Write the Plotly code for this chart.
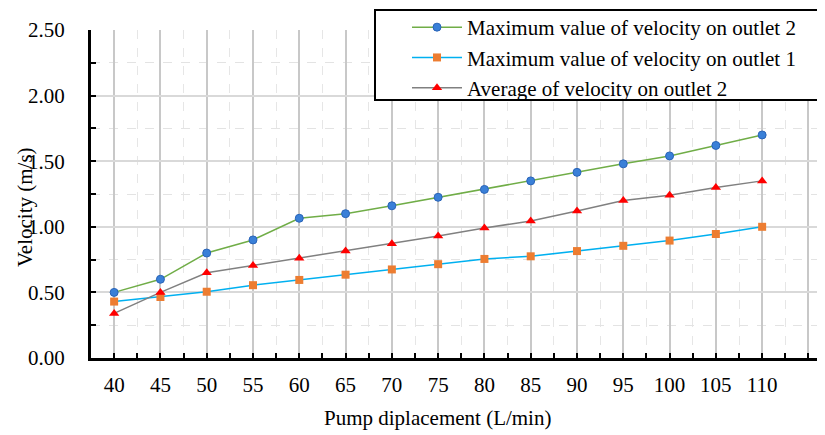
import plotly.graph_objects as go

pump = [40, 45, 50, 55, 60, 65, 70, 75, 80, 85, 90, 95, 100, 105, 110]
max_outlet2 = [0.50, 0.60, 0.80, 0.90, 1.065, 1.10, 1.16, 1.225, 1.285, 1.35, 1.415, 1.48, 1.54, 1.62, 1.70]
max_outlet1 = [0.43, 0.465, 0.505, 0.555, 0.595, 0.635, 0.675, 0.715, 0.755, 0.775, 0.815, 0.855, 0.895, 0.945, 1.00]
avg_outlet2 = [0.34, 0.50, 0.65, 0.705, 0.76, 0.815, 0.87, 0.93, 0.99, 1.045, 1.12, 1.20, 1.24, 1.30, 1.35]

x_tickvals = [40, 45, 50, 55, 60, 65, 70, 75, 80, 85, 90, 95, 100, 105, 110, 115]
x_ticktext = ["40", "45", "50", "55", "60", "65", "70", "75", "80", "85", "90", "95", "100", "105", "110", ""]

FONT = "Liberation Serif, Times New Roman, serif"

fig = go.Figure()
fig.add_trace(go.Scatter(
    x=pump, y=max_outlet2, mode="lines+markers",
    name="Maximum value of velocity on outlet 2",
    line=dict(color="#70ad47", width=1.5),
    marker=dict(symbol="circle", size=8, color="#3a80d8", line=dict(color="#2a64b8", width=1)),
))
fig.add_trace(go.Scatter(
    x=pump, y=max_outlet1, mode="lines+markers",
    name="Maximum value of velocity on outlet 1",
    line=dict(color="#00b0f0", width=1.5),
    marker=dict(symbol="square", size=8, color="#ed7d31"),
))
fig.add_trace(go.Scatter(
    x=pump, y=avg_outlet2, mode="lines+markers",
    name="Average of velocity on outlet 2",
    line=dict(color="#808080", width=1.5),
    marker=dict(symbol="triangle-up", size=9, color="#ff0000"),
))

OFF = 8  # page body margin
W, H = 825 - OFF, 435 - OFF
L, R, T = 91 - OFF, 0, 30 - OFF
pw = W - L - R
ph = 328
B = H - T - ph
px_per_unit = (762 - 114) / 70.0
x0 = 37.5
x1 = x0 + pw / px_per_unit

def px_x(p):
    return (p - OFF - L) / pw

def px_y(p):
    return (T + ph - (p - OFF)) / ph

fig.update_layout(
    width=W, height=H,
    margin=dict(l=L, r=R, t=T, b=B, pad=0, autoexpand=False),
    paper_bgcolor="white", plot_bgcolor="white",
    font=dict(family=FONT, size=21, color="black"),
    showlegend=True,
    legend=dict(
        x=px_x(407), y=px_y(7), xanchor="left", yanchor="top",
        bgcolor="rgba(0,0,0,0)", borderwidth=0,
        font=dict(family=FONT, size=21, color="black"),
        itemwidth=50, tracegroupgap=0,
    ),
    xaxis=dict(
        range=[x0, x1], automargin=False,
        tickmode="array", tickvals=x_tickvals, ticktext=x_ticktext,
        showgrid=True, gridcolor="#c8c8c8", gridwidth=2,
        showline=True, linecolor="black", linewidth=3,
        ticks="inside", ticklen=5, tickwidth=2, tickcolor="black",
        ticklabelstandoff=6,
        zeroline=False,
        minor=dict(tickmode="linear", tick0=37.5, dtick=2.5, ticks="inside", ticklen=5,
                   tickwidth=2, tickcolor="black", showgrid=True, gridcolor="#e6e6e6",
                   griddash="dash", gridwidth=1),
    ),
    yaxis=dict(
        range=[0, 2.5], dtick=0.5, tick0=0, tickformat=".2f", automargin=False,
        showgrid=True, gridcolor="#d9d9d9", gridwidth=1.5,
        showline=True, linecolor="black", linewidth=3,
        ticks="inside", ticklen=5, tickwidth=2, tickcolor="black",
        ticklabelstandoff=19,
        zeroline=False,
        minor=dict(dtick=0.25, tick0=0, ticks="inside", ticklen=5, tickwidth=2,
                   tickcolor="black", showgrid=True, gridcolor="#e3e3e3",
                   griddash="dash", gridwidth=1),
    ),
    shapes=[
        dict(type="rect", xref="paper", yref="paper", layer="above",
             x0=px_x(375), x1=px_x(823), y0=px_y(100), y1=px_y(10),
             fillcolor="white", line=dict(color="black", width=2)),
    ],
    annotations=[
        dict(text="Pump diplacement (L/min)", xref="paper", yref="paper",
             x=px_x(437), y=px_y(418), xanchor="center", yanchor="middle",
             showarrow=False, font=dict(family=FONT, size=21, color="black")),
        dict(text="Velocity (m/s)", xref="paper", yref="paper", textangle=-90,
             x=px_x(25), y=px_y(207), xanchor="center", yanchor="middle",
             showarrow=False, font=dict(family=FONT, size=21, color="black")),
    ],
)

fig.write_html("out.html")
